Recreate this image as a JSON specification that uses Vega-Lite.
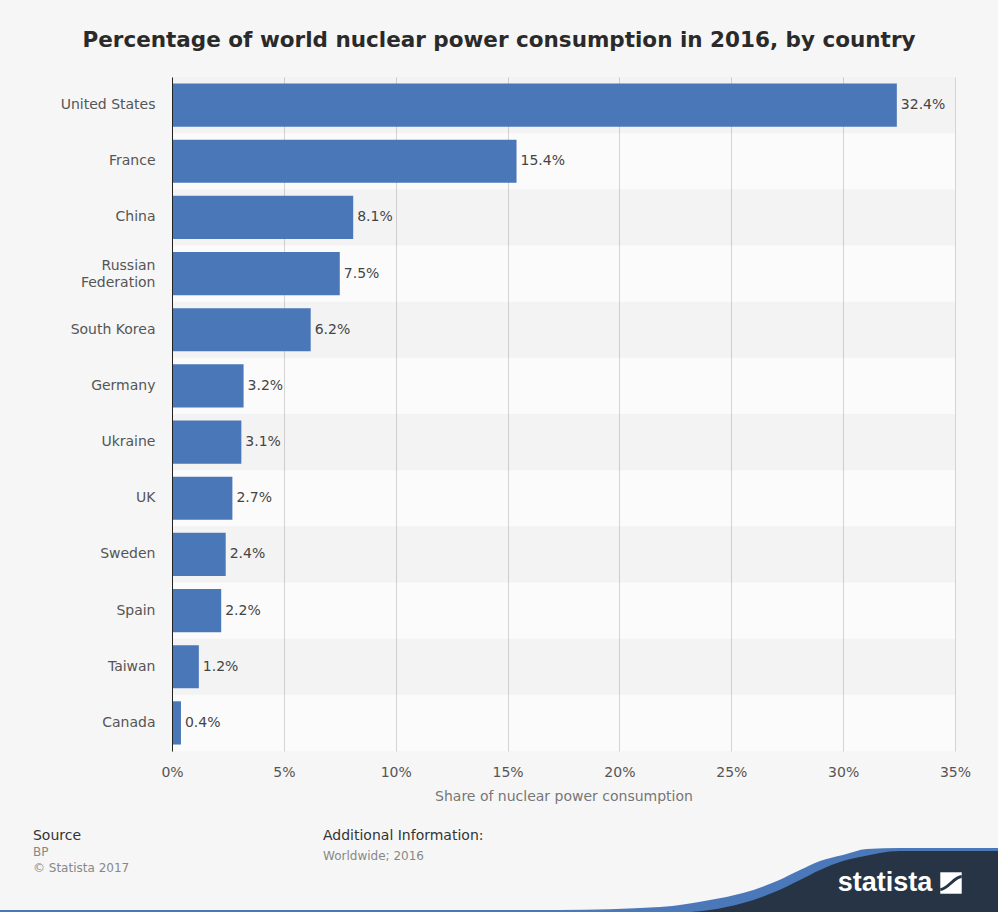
{
  "$schema": "https://vega.github.io/schema/vega-lite/v6.json",
  "background": "#f6f6f6",
  "padding": {"left": 0, "right": 0, "top": 29, "bottom": 0},
  "config": {"view": {"stroke": null}, "font": "DejaVu Sans"},
  "title": {
    "text": "Percentage of world nuclear power consumption in 2016, by country",
    "fontSize": 21.5, "font": "DejaVu Sans", "fontWeight": "bold", "color": "#2a2a2a",
    "anchor": "middle", "frame": "bounds", "offset": 26
  },
  "datasets": {
    "shares": [
      {"country": "United States", "share": 32.4},
      {"country": "France", "share": 15.4},
      {"country": "China", "share": 8.1},
      {"country": "Russian Federation", "share": 7.5},
      {"country": "South Korea", "share": 6.2},
      {"country": "Germany", "share": 3.2},
      {"country": "Ukraine", "share": 3.1},
      {"country": "UK", "share": 2.7},
      {"country": "Sweden", "share": 2.4},
      {"country": "Spain", "share": 2.2},
      {"country": "Taiwan", "share": 1.2},
      {"country": "Canada", "share": 0.4}
    ],
    "waveBlue": [
      {"x": -20.82, "y": 5.43}, {"x": 46.97, "y": 5.43}, {"x": 59.08, "y": 8.7}, {"x": 65.13, "y": 16.3},
      {"x": 69.13, "y": 23.91}, {"x": 73.24, "y": 36.96}, {"x": 76.03, "y": 48.91}, {"x": 78.45, "y": 58.7},
      {"x": 81.23, "y": 65.22}, {"x": 84.14, "y": 71.74}, {"x": 88.14, "y": 72.83}, {"x": 100, "y": 72.83}
    ],
    "waveDark": [
      {"x": 57.87, "y": 0}, {"x": 61.14, "y": 2.17}, {"x": 65.13, "y": 5.43}, {"x": 69.13, "y": 13.04},
      {"x": 73.24, "y": 26.09}, {"x": 76.03, "y": 38.04}, {"x": 78.45, "y": 48.91}, {"x": 81.23, "y": 58.7},
      {"x": 83.29, "y": 63.04}, {"x": 88.14, "y": 69.57}, {"x": 100, "y": 69.57}
    ],
    "one": [{"brand": "statista"}]
  },
  "spacing": 20,
  "vconcat": [
    {
      "width": 783,
      "height": 674,
      "view": {"fill": "#fcfbfb", "stroke": null},
      "data": {"name": "shares"},
      "encoding": {
        "y": {
          "field": "country", "type": "nominal",
          "sort": ["United States", "France", "China", "Russian Federation", "South Korea", "Germany", "Ukraine", "UK", "Sweden", "Spain", "Taiwan", "Canada"],
          "scale": {"paddingInner": 0, "paddingOuter": 0},
          "axis": {
            "title": null, "domain": true, "domainColor": "#222", "domainWidth": 1,
            "ticks": false, "labelPadding": 17, "labelFontSize": 14, "labelColor": "#555",
            "labelFont": "DejaVu Sans", "minExtent": 172, "maxExtent": 172,
            "labelLineHeight": 17,
            "labelOffset": {"condition": {"test": "datum.value == 'Russian Federation'", "value": -8}, "value": 0},
            "labelExpr": "datum.value == 'Russian Federation' ? ['Russian', 'Federation'] : datum.value"
          }
        }
      },
      "layer": [
        {
          "transform": [{"window": [{"op": "row_number", "as": "idx"}]}],
          "mark": {"type": "rect", "color": "#000000"},
          "encoding": {
            "x": {"value": 0},
            "x2": {"value": "width"},
            "opacity": {"condition": {"test": "datum.idx % 2 == 1", "value": 0.03}, "value": 0}
          }
        },
        {
          "mark": {"type": "bar", "color": "#4a77b7", "height": {"band": 0.77}},
          "encoding": {
            "x": {
              "field": "share", "type": "quantitative",
              "scale": {"domain": [0, 35], "nice": false},
              "axis": {
                "values": [0, 5, 10, 15, 20, 25, 30, 35],
                "labelExpr": "datum.value + '%'", "labelFlush": false,
                "domain": false, "ticks": false, "grid": true, "gridColor": "#d4d4d4",
                "labelPadding": 14, "labelFontSize": 14, "labelColor": "#555", "labelFont": "DejaVu Sans",
                "title": "Share of nuclear power consumption",
                "titleFontSize": 14, "titleFontWeight": "normal", "titleColor": "#777",
                "titleFont": "DejaVu Sans", "titlePadding": 10
              }
            }
          }
        },
        {
          "transform": [{"calculate": "format(datum.share, '.1f') + '%'", "as": "label"}],
          "mark": {"type": "text", "align": "left", "baseline": "middle", "dx": 4, "fontSize": 14, "color": "#444", "font": "DejaVu Sans"},
          "encoding": {
            "x": {"field": "share", "type": "quantitative"},
            "text": {"field": "label"}
          }
        }
      ]
    },
    {
      "width": 826,
      "height": 92,
      "data": {"name": "one"},
      "layer": [
        {
          "data": {"name": "waveBlue"},
          "mark": {"type": "area", "color": "#4a78b8", "interpolate": "monotone"},
          "encoding": {
            "x": {"field": "x", "type": "quantitative", "scale": {"domain": [0, 100], "nice": false, "zero": false}, "axis": null},
            "y": {"field": "y", "type": "quantitative", "scale": {"domain": [0, 100], "nice": false, "zero": false},
                  "axis": {"title": null, "labels": false, "ticks": false, "domain": false, "grid": false, "minExtent": 172, "maxExtent": 172}}
          }
        },
        {
          "data": {"name": "waveDark"},
          "mark": {"type": "area", "color": "#263446", "interpolate": "monotone"},
          "encoding": {
            "x": {"field": "x", "type": "quantitative"},
            "y": {"field": "y", "type": "quantitative"}
          }
        },
        {
          "mark": {"type": "text", "color": "#ffffff", "font": "Liberation Sans", "fontWeight": "bold", "fontSize": 27, "align": "center", "baseline": "middle"},
          "encoding": {"x": {"datum": 86.32}, "y": {"datum": 34.78}, "text": {"field": "brand"}}
        },
        {
          "mark": {"type": "point", "shape": "square", "filled": true, "color": "#ffffff", "size": 460, "opacity": 1},
          "encoding": {"x": {"datum": 94.31}, "y": {"datum": 34.78}}
        },
        {
          "mark": {"type": "point", "shape": "M-1,0.6 C-0.3,0.6 0.3,-0.6 1,-0.6", "filled": false, "color": "#263446", "strokeWidth": 3, "size": 460, "opacity": 1},
          "encoding": {"x": {"datum": 94.31}, "y": {"datum": 34.78}}
        },
        {
          "mark": {"type": "text", "align": "left", "baseline": "middle", "fontSize": 14, "color": "#333", "font": "DejaVu Sans"},
          "encoding": {"x": {"datum": -16.83}, "y": {"datum": 85.9}, "text": {"value": "Source"}}
        },
        {
          "mark": {"type": "text", "align": "left", "baseline": "middle", "fontSize": 12, "color": "#888", "font": "DejaVu Sans"},
          "encoding": {"x": {"datum": -16.83}, "y": {"datum": 68.5}, "text": {"value": "BP"}}
        },
        {
          "mark": {"type": "text", "align": "left", "baseline": "middle", "fontSize": 12, "color": "#888", "font": "DejaVu Sans"},
          "encoding": {"x": {"datum": -16.83}, "y": {"datum": 51.1}, "text": {"value": "© Statista 2017"}}
        },
        {
          "mark": {"type": "text", "align": "left", "baseline": "middle", "fontSize": 14, "color": "#333", "font": "DejaVu Sans"},
          "encoding": {"x": {"datum": 18.28}, "y": {"datum": 85.9}, "text": {"value": "Additional Information:"}}
        },
        {
          "mark": {"type": "text", "align": "left", "baseline": "middle", "fontSize": 12, "color": "#888", "font": "DejaVu Sans"},
          "encoding": {"x": {"datum": 18.28}, "y": {"datum": 64.1}, "text": {"value": "Worldwide; 2016"}}
        }
      ]
    }
  ]
}
